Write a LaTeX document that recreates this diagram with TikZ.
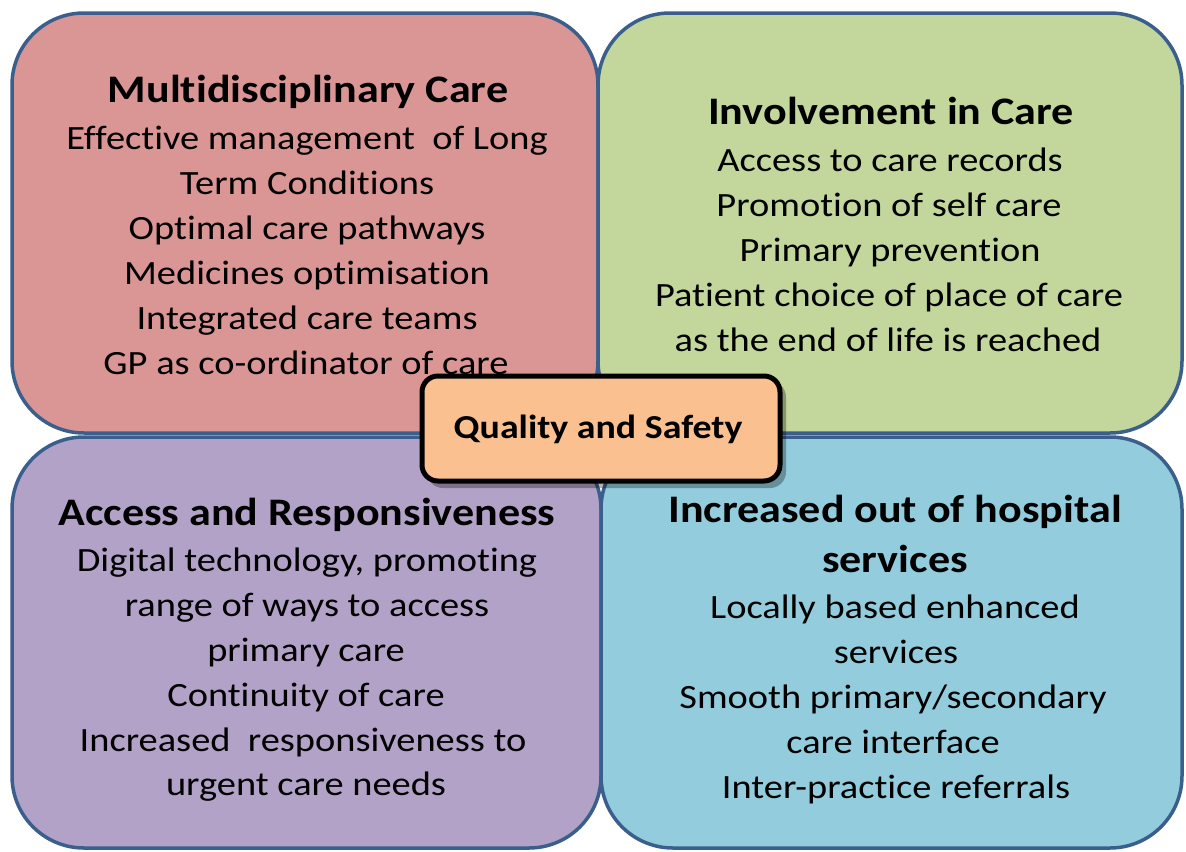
\documentclass[tikz,border=0pt]{standalone}
\usepackage{fontspec}
\setmainfont[FakeStretch=1.13, Ligatures=NoCommon]{Carlito}
\definecolor{qred}{HTML}{D99694}
\definecolor{qgreen}{HTML}{C3D69B}
\definecolor{qpurple}{HTML}{B3A2C7}
\definecolor{qblue}{HTML}{93CDDD}
\definecolor{qorange}{HTML}{FAC090}
\definecolor{qborder}{HTML}{3A5F8C}
\tikzset{
  quad/.style={draw=qborder, line width=3.5bp, rounded corners=72bp},
  ttl/.style={anchor=base, inner sep=0pt, font=\fontsize{39bp}{46bp}\selectfont\bfseries},
  body/.style={anchor=base, inner sep=0pt, font=\fontsize{34bp}{45bp}\selectfont},
  centerbox/.style={draw=black, line width=5bp, rounded corners=16bp, fill=qorange},
}
\begin{document}
\begin{tikzpicture}[x=1bp,y=-1bp]
\useasboundingbox (0,0) rectangle (1186,852);
% quadrants
\path[quad, fill=qred] (12,13) rectangle (598,433);
\path[quad, fill=qgreen] (598,13) rectangle (1182,433);
\path[quad, fill=qpurple] (12,437) rectangle (601,848);
\path[quad, fill=qblue] (601,437) rectangle (1182,848);
% top-left
\node[ttl] (tlt) at (308,102) {Multidisciplinary Care};
\node[body] (tl1) at (307,149) {Effective management\ \ of Long};
\node[body] (tl2) at (307,194) {Term Conditions};
\node[body] (tl3) at (307,239) {Optimal care pathways};
\node[body] (tl4) at (307,284) {Medicines optimisation};
\node[body] (tl5) at (307,329) {Integrated care teams};
\node[body] (tl6) at (306,374) {GP as co-ordinator of care};
% top-right
\node[ttl] (trt) at (891,124) {Involvement in Care};
\node[body] (tr1) at (890,171) {Access to care records};
\node[body] (tr2) at (889,216) {Promotion of self care};
\node[body] (tr3) at (890,261) {Primary prevention};
\node[body] (tr4) at (889,306) {Patient choice of place of care};
\node[body] (tr5) at (888,351) {as the end of life is reached};
% bottom-left
\node[ttl] (blt) at (307,525) {Access and Responsiveness};
\node[body] (bl1) at (307,571) {Digital technology, promoting};
\node[body] (bl2) at (307,616) {range of ways to access};
\node[body] (bl3) at (306,661) {primary care};
\node[body] (bl4) at (306,706) {Continuity of care};
\node[body] (bl5) at (303,751) {Increased\ \ responsiveness to};
\node[body] (bl6) at (306,795) {urgent care needs};
% bottom-right
\node[ttl] (brt) at (895,522) {Increased out of hospital};
\node[ttl] (brt2) at (895,572) {services};
\node[body] (br1) at (895,618) {Locally based enhanced};
\node[body] (br2) at (896,663) {services};
\node[body] (br3) at (893,708) {Smooth primary/secondary};
\node[body] (br4) at (893,753) {care interface};
\node[body] (br5) at (896,798) {Inter-practice referrals};
% centre
\fill[black, opacity=0.3, rounded corners=16bp] (427,381) rectangle (786,488);
\path[centerbox] (422,376) rectangle (780,481);
\node[anchor=base, inner sep=0pt, font=\fontsize{33.5bp}{40bp}\selectfont\bfseries] (qs) at (598,438) {Quality and Safety};
\end{tikzpicture}
\end{document}
